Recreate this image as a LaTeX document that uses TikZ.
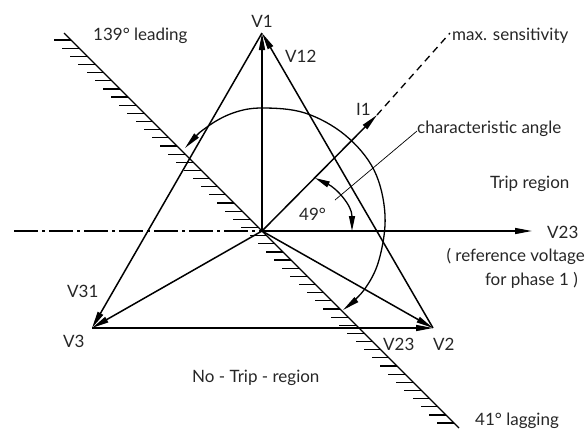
\documentclass[tikz,border=0pt]{standalone}
\usepackage{fontspec}
\setmainfont{Lato}
\usetikzlibrary{arrows.meta}
\begin{document}
\begin{tikzpicture}[x=1pt,y=-1pt,
  tip/.style={-{Triangle[length=17pt,width=6pt]}},
  vec/.style={line width=1.5pt,tip},
  edgeline/.style={line width=1.5pt},
  hatchline/.style={line width=1.3pt},
  ticks/.style={line width=1.2pt},
  lbl/.style={font=\fontsize{17}{19}\selectfont, inner sep=0pt, text=black!85},
  thinline/.style={line width=0.7pt}]
\useasboundingbox (0,0) rectangle (586,432);
% key points
\coordinate (O) at (262,231);
\coordinate (V1) at (262,33);
\coordinate (V2) at (433,328);
\coordinate (V3) at (92,328);
\coordinate (Ref) at (532,231);
\coordinate (Left) at (14,231);
\coordinate (I1) at (377,115);
\coordinate (Max) at (450,33);
\coordinate (H1) at (64,33);
\coordinate (H2) at (459,428);
\coordinate (L1) at (335,200);
\coordinate (L2) at (417,131);
% hatched boundary
\draw[hatchline] (H1) -- (H2);
\foreach \k in {0,...,47} {
  \pgfmathsetmacro{\yy}{40+\k*8.15}
  \draw[ticks] ({\yy+31},\yy) -- ++(-17,0);
}
% reference axis
\draw[line width=1.3pt, dash pattern=on 24pt off 4pt on 3pt off 4pt] (Left) -- (O);
% triangle edges
\draw[vec] (V2) -- (V1);
\draw[vec] (V1) -- (V3);
\draw[vec] (V3) -- (V2);
% phase vectors
\draw[vec] (O) -- (V1);
\draw[vec] (O) -- (V2);
\draw[vec] (O) -- (V3);
\draw[vec] (O) -- (Ref);
\draw[vec] (O) -- (I1);
\draw[line width=1.3pt, dash pattern=on 7pt off 5pt] (I1) -- (Max);
% characteristic angle leader
\draw[thinline] (L1) -- (L2);
% small angle arc
\draw[line width=1.3pt, {Triangle[length=15pt,width=6pt]}-{Triangle[length=15pt,width=6pt]}]
  (315,178) .. controls (336,188) and (352,205) .. (352,231);
% large arc
\draw[line width=1.3pt, {Triangle[length=17pt,width=6pt]}-{Triangle[length=17pt,width=6pt]}]
  plot[smooth, tension=0.6] coordinates {(185,148) (207,127) (233,113) (262,108) (305,113) (345,135) (374,170) (385,215) (379,260) (364,290) (343,310)};
% labels
\node[lbl, anchor=base] (tV1) at (262,27) {V1};
\node[lbl, anchor=base west] (tV12) at (285,62) {V12};
\node[lbl, anchor=base west] (tlead) at (93,40) {139° leading};
\node[lbl, anchor=base west] (tmax) at (452,40) {max. sensitivity};
\node[lbl, anchor=base west] (tI1) at (356,115) {I1};
\node[lbl, anchor=base west] (tchar) at (417,133) {characteristic angle};
\node[lbl, anchor=base west] (ttrip) at (490,188) {Trip region};
\node[lbl, anchor=base west] (t49) at (299,220) {49°};
\node[lbl, anchor=base west] (tV23r) at (547,238) {V23};
\node[lbl, anchor=base east] (tref) at (585,261) {( reference voltage};
\node[lbl, anchor=base east] (tph) at (578,285) {for phase 1 )};
\node[lbl, anchor=base west] (tV31) at (67,297) {V31};
\node[lbl, anchor=base west] (tV3) at (63,347) {V3};
\node[lbl, anchor=base west] (tV23b) at (383,350) {V23};
\node[lbl, anchor=base west] (tV2) at (433,350) {V2};
\node[lbl, anchor=base west] (tno) at (192,382) {No - Trip - region};
\node[lbl, anchor=base west] (tlag) at (475,425) {41° lagging};
\end{tikzpicture}
\end{document}
